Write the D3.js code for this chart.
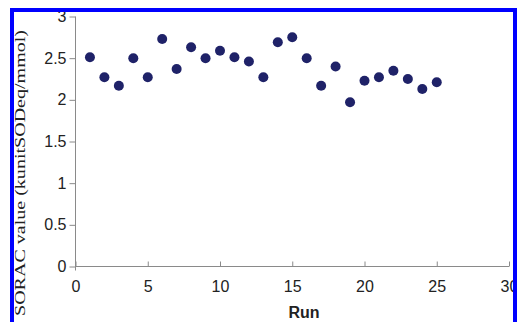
<!DOCTYPE html>
<html>
<head>
<meta charset="utf-8">
<script src="https://cdn.jsdelivr.net/npm/d3@7"></script>
<style>
  html, body { margin: 0; padding: 0; background: #fff; }
  svg { display: block; }
</style>
</head>
<body>
<script>
const runs = [1,2,3,4,5,6,7,8,9,10,11,12,13,14,15,16,17,18,19,20,21,22,23,24,25];
const soracValues = [2.51,2.27,2.17,2.50,2.27,2.73,2.37,2.63,2.50,2.59,2.51,2.46,2.27,2.69,2.75,2.50,2.17,2.40,1.97,2.23,2.27,2.35,2.25,2.13,2.21];
const xTicks = [0,5,10,15,20,25,30];
const yTicks = [0,0.5,1,1.5,2,2.5,3];
const xTitle = "Run";
const yTitle = "SORAC value  (kunitSODeq/mmol)";

const W = 517, H = 322;
const svg = d3.select("body").append("svg").attr("width", W).attr("height", H);

svg.append("rect").attr("x", 0).attr("y", 0).attr("width", W).attr("height", H).attr("fill", "#fff");

const x = d3.scaleLinear().domain([0, 30]).range([75.5, 509]);
const y = d3.scaleLinear().domain([0, 3]).range([266.5, 16.5]);

const axisColor = "#8a8a8a";
const textColor = "#222";

// Y axis
const yAxis = svg.append("g").attr("transform", `translate(${x(0)},0)`)
  .call(d3.axisLeft(y).tickValues(yTicks).tickSize(6).tickPadding(3).tickFormat(d3.format("")));
yAxis.select(".domain").attr("stroke", axisColor).attr("d", `M0,${y(3)}V${y(0)+4}`);
yAxis.selectAll(".tick line").attr("stroke", axisColor);
yAxis.selectAll(".tick text").attr("fill", textColor).attr("font-family", "Liberation Sans, Arial, sans-serif").attr("font-size", 16);

// X axis
const xAxis = svg.append("g").attr("transform", `translate(0,${y(0)})`)
  .call(d3.axisBottom(x).tickValues(xTicks).tickSize(-5).tickPadding(14).tickFormat(d3.format("d")));
xAxis.select(".domain").attr("stroke", axisColor).attr("d", `M${x(0)},0H${x(30)}`);
xAxis.selectAll(".tick line").attr("stroke", axisColor);
xAxis.selectAll(".tick text").attr("fill", textColor).attr("font-family", "Liberation Sans, Arial, sans-serif").attr("font-size", 16);

// Points
svg.append("g").selectAll("circle")
  .data(runs.map((r, i) => ({ r, v: soracValues[i] })))
  .join("circle")
  .attr("cx", d => x(d.r))
  .attr("cy", d => y(d.v))
  .attr("r", 5)
  .attr("fill", "#1f2268");

// Titles
svg.append("text")
  .attr("x", 304).attr("y", 318)
  .attr("text-anchor", "middle")
  .attr("font-family", "Liberation Sans, Arial, sans-serif")
  .attr("font-weight", "bold")
  .attr("font-size", 16)
  .attr("fill", textColor)
  .text(xTitle);

svg.append("text")
  .attr("transform", "translate(25,173) rotate(-90)")
  .attr("text-anchor", "middle")
  .attr("font-family", "Liberation Serif, Times New Roman, serif")
  .attr("font-size", 15)
  .attr("textLength", 286)
  .attr("lengthAdjust", "spacingAndGlyphs")
  .attr("fill", textColor)
  .text(yTitle);

// Blue frame
svg.append("rect")
  .attr("x", 12).attr("y", 10)
  .attr("width", 503).attr("height", 340)
  .attr("fill", "none")
  .attr("stroke", "#0000ff")
  .attr("stroke-width", 4);
</script>
</body>
</html>
